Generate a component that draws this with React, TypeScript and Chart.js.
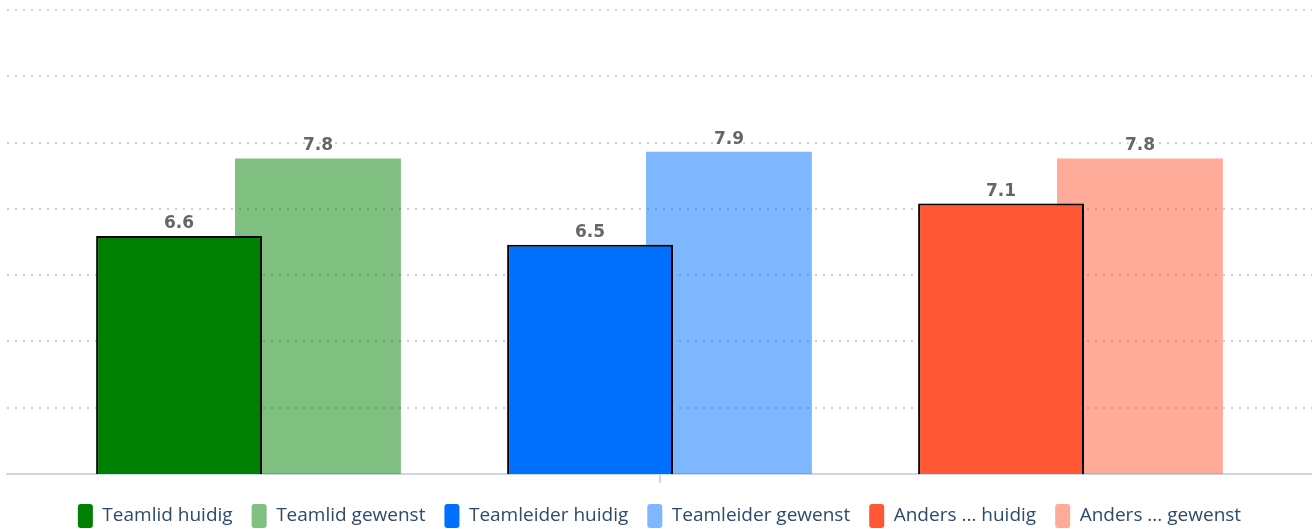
import React, { useEffect, useRef } from "react";
import { Chart, registerables } from "chart.js";

Chart.register(...registerables);

const categories = ["Teamlid", "Teamleider", "Anders ..."];
const seriesNames = ["huidig", "gewenst"];
const huidigValues = [6.59, 6.46, 7.08];
const gewenstValues = [7.76, 7.86, 7.76];
const huidigColors = ["#008000", "#0070FF", "#FF5733"];
const gewenstColors = ["rgba(0,128,0,0.5)", "rgba(0,112,255,0.5)", "rgba(255,87,51,0.5)"];
const yMin = 3;
const yMax = 10;
const yStep = 1;

export default function App() {
  const ref = useRef<HTMLCanvasElement>(null);

  useEffect(() => {
    const canvas = ref.current;
    if (!canvas) return;

    const shadowPlugin = {
      id: "barShadow",
      beforeDatasetDraw(chart: any, args: any) {
        if (args.index !== 0) return;
        const c = chart.ctx;
        c.save();
        c.shadowColor = "rgba(0,0,0,0.45)";
        c.shadowOffsetX = 3;
        c.shadowOffsetY = 2;
        c.shadowBlur = 5;
      },
      afterDatasetDraw(chart: any, args: any) {
        if (args.index !== 0) return;
        chart.ctx.restore();
      },
    };

    const labelPlugin = {
      id: "valueLabels",
      afterDatasetsDraw(chart: any) {
        const c = chart.ctx;
        c.save();
        c.font = "bold 17px 'DejaVu Sans'";
        c.textAlign = "center";
        c.textBaseline = "alphabetic";
        c.lineJoin = "round";
        chart.data.datasets.forEach((ds: any, di: number) => {
          const meta = chart.getDatasetMeta(di);
          meta.data.forEach((el: any, i: number) => {
            const t = Number(ds.data[i].y).toFixed(1);
            c.lineWidth = 4;
            c.strokeStyle = "#ffffff";
            c.strokeText(t, el.x, el.y - 8);
            c.fillStyle = "#666666";
            c.fillText(t, el.x, el.y - 8);
          });
        });
        c.restore();
      },
    };

    const chart = new Chart(canvas, {
      type: "bar",
      data: {
        datasets: [
          {
            label: seriesNames[0],
            data: categories.map((_, i) => ({ x: i, y: huidigValues[i] })),
            backgroundColor: huidigColors,
            borderColor: "#000000",
            borderWidth: 2,
            borderSkipped: false,
          },
          {
            label: seriesNames[1],
            data: categories.map((_, i) => ({ x: i, y: gewenstValues[i] })),
            backgroundColor: gewenstColors,
            borderWidth: 0,
          },
        ],
      } as any,
      options: {
        responsive: false,
        animation: false,
        devicePixelRatio: 1,
        layout: { padding: { top: 10, left: 7, right: 0, bottom: 0 } },
        datasets: {
          bar: { categoryPercentage: 0.676, barPercentage: 1.194 },
        } as any,
        scales: {
          x: {
            type: "linear",
            offset: false,
            bounds: "data",
            min: -0.5876,
            max: 2.5876,
            afterBuildTicks: (s: any) => {
              s.ticks = [{ value: 1 }];
            },
            afterFit: (s: any) => {
              s.height = 11;
            },
            ticks: { display: false },
            grid: {
              offset: false,
              drawOnChartArea: false,
              drawTicks: true,
              tickLength: 9,
              color: "#ccd6eb",
              lineWidth: 2,
            },
            border: { display: true, color: "#ccd6eb", width: 2 },
          },
          y: {
            min: yMin,
            max: yMax,
            ticks: { display: false, stepSize: yStep },
            grid: { drawTicks: false, color: "#cfcfcf", lineWidth: 2 },
            border: { display: false, dash: [2, 6] },
          },
        } as any,
        plugins: {
          tooltip: { enabled: false },
          legend: {
            position: "bottom",
            onClick: () => {},
            labels: {
              boxWidth: 15,
              boxHeight: 24,
              padding: 19,
              useBorderRadius: true,
              borderRadius: 3,
              color: "#2c4a6b",
              font: { family: "'Open Sans'", size: 19 },
              generateLabels: () =>
                categories.flatMap((cat, i) => [
                  {
                    text: `${cat} ${seriesNames[0]}`,
                    fillStyle: huidigColors[i],
                    strokeStyle: huidigColors[i],
                    lineWidth: 0,
                    hidden: false,
                    borderRadius: 3,
                    fontColor: "#2c4a6b",
                    datasetIndex: 0,
                  },
                  {
                    text: `${cat} ${seriesNames[1]}`,
                    fillStyle: gewenstColors[i],
                    strokeStyle: gewenstColors[i],
                    lineWidth: 0,
                    hidden: false,
                    borderRadius: 3,
                    fontColor: "#2c4a6b",
                    datasetIndex: 1,
                  },
                ]),
            },
          },
        } as any,
      },
      plugins: [shadowPlugin, labelPlugin],
    });

    return () => chart.destroy();
  }, []);

  return (
    <div style={{ position: "fixed", left: 0, top: 0, width: 1312, height: 538 }}>
      <canvas ref={ref} width={1312} height={538} />
    </div>
  );
}
